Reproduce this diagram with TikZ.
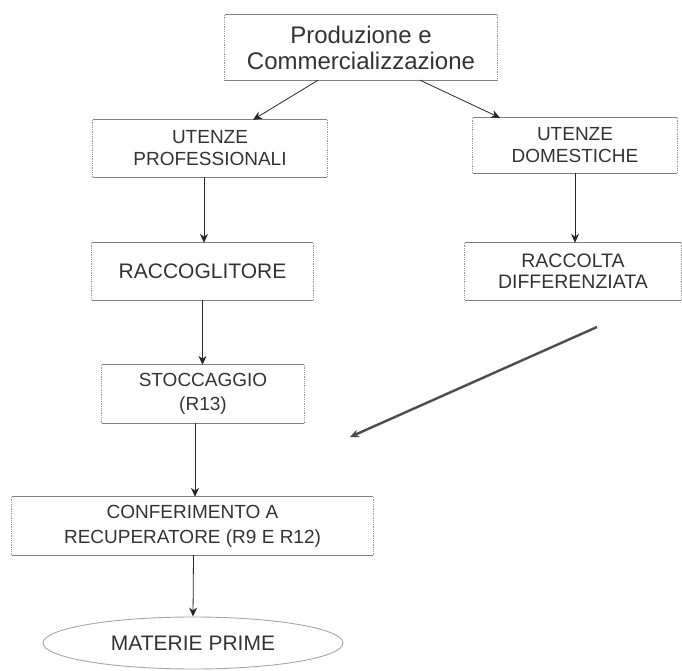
\documentclass[tikz,border=0pt]{standalone}
\usepackage{fontspec}
\setmainfont{Liberation Sans}
\usetikzlibrary{arrows.meta,shapes.geometric}
\begin{document}
\begin{tikzpicture}[x=1pt,y=-1pt,
  box/.style={rectangle,inner sep=0pt,align=center,text=black!80},
  edgeh/.style={draw=black!50,line width=1.3pt},
  edgev/.style={draw=black!40,line width=0.8pt,densely dotted},
  ell/.style={draw=black!35,line width=0.9pt,ellipse,inner sep=0pt,align=center,text=black!80},
  arr/.style={draw=black!85,line width=0.8pt,-{Stealth[length=9pt,width=8pt]}},
  bigarr/.style={draw=black!70,line width=2.4pt,-{Stealth[length=9pt,width=8pt]}}]
\useasboundingbox (0,0) rectangle (682,671);
\node[box,minimum width=272pt,minimum height=65pt,font=\fontsize{24}{26}\selectfont] (top) at (361,47.5) {Produzione e\\Commercializzazione};
\node[box,minimum width=234pt,minimum height=57pt,font=\fontsize{19}{22}\selectfont] (up) at (210,148.5) {UTENZE\\PROFESSIONALI};
\node[box,minimum width=204pt,minimum height=55pt,font=\fontsize{19}{22}\selectfont] (ud) at (575,145.5) {UTENZE\\DOMESTICHE};
\node[box,minimum width=221pt,minimum height=57pt,font=\fontsize{21}{24}\selectfont] (rac) at (202.5,271.5) {RACCOGLITORE};
\node[box,minimum width=216pt,minimum height=57pt,font=\fontsize{19.5}{21}\selectfont] (rd) at (573,271.5) {RACCOLTA\\DIFFERENZIATA};
\node[box,minimum width=202pt,minimum height=58pt,font=\fontsize{19}{24}\selectfont] (sto) at (203,394) {STOCCAGGIO\\(R13)};
\node[box,minimum width=361pt,minimum height=58pt,font=\fontsize{19}{25}\selectfont] (conf) at (192.5,526) {CONFERIMENTO A\\RECUPERATORE (R9 E R12)};
\node[ell,minimum width=300pt,minimum height=52pt,font=\fontsize{21}{24}\selectfont] (mp) at (193,643) {MATERIE PRIME};
\foreach \n in {top,up,ud,rac,rd,sto,conf}{
  \draw[edgeh] (\n.north west) -- (\n.north east);
  \draw[edgeh] (\n.south west) -- (\n.south east);
  \draw[edgev] (\n.north west) -- (\n.south west);
  \draw[edgev] (\n.north east) -- (\n.south east);
}
\coordinate (d1) at (597,327);
\coordinate (d2) at (350,437);
\draw[arr] ([xshift=-43pt]top.south) -- ([xshift=43pt]up.north);
\draw[arr] ([xshift=59pt]top.south) -- ([xshift=-75pt]ud.north);
\draw[arr] ([xshift=-6pt]up.south) -- ([xshift=-6pt]up.south |- rac.north);
\draw[arr] (ud.south) -- (ud.south |- rd.north);
\draw[arr] (rac.south) -- (rac.south |- sto.north);
\draw[arr] ([xshift=-8pt]sto.south) -- ([xshift=-8pt]sto.south |- conf.north);
\draw[arr] ([xshift=1pt]conf.south) -- (mp.north);
\draw[bigarr] (d1) -- (d2);
\end{tikzpicture}
\end{document}
